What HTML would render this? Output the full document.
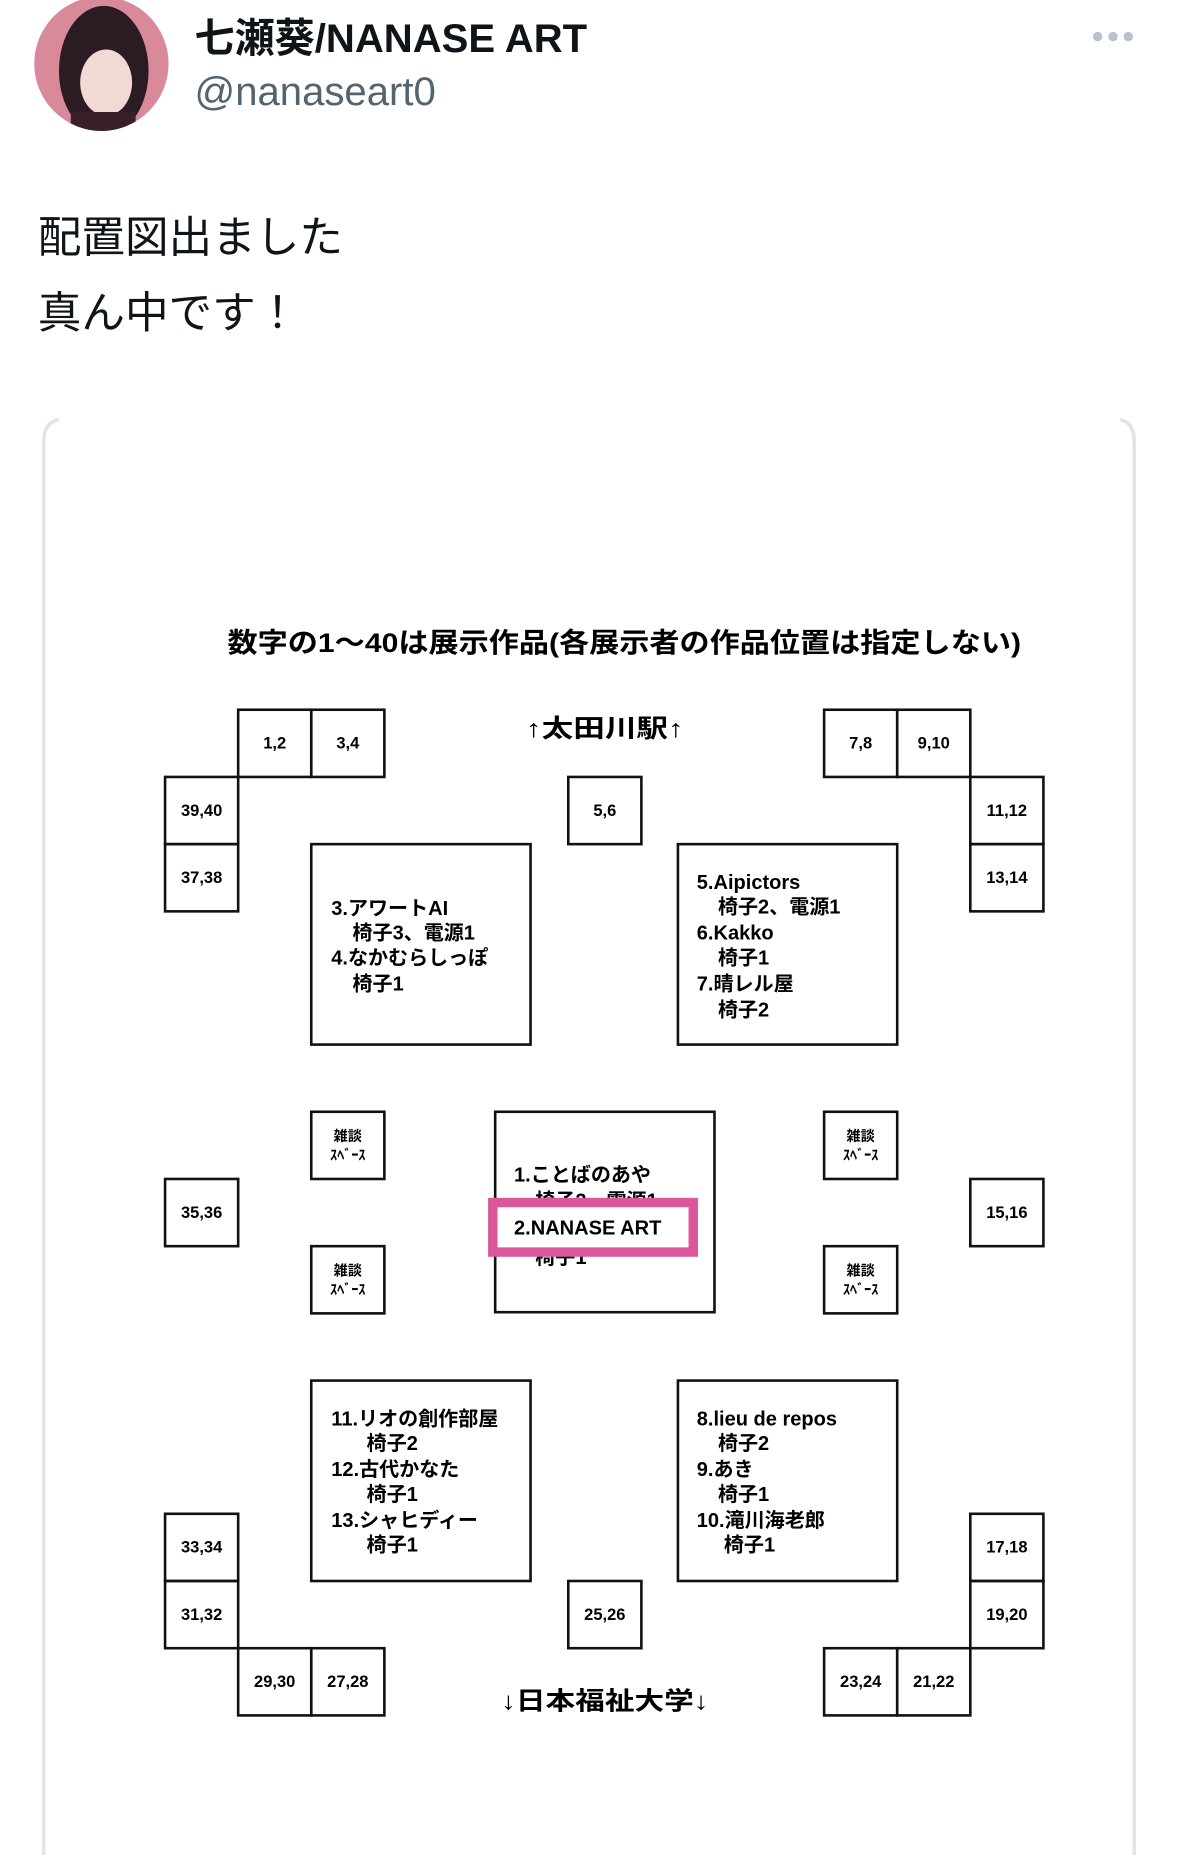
<!DOCTYPE html>
<html><head><meta charset="utf-8"><style>
html,body{margin:0;padding:0;background:#fff;}
svg{display:block}
</style></head><body>
<svg width="1179" height="1855" viewBox="0 0 1000 1573.4" xmlns="http://www.w3.org/2000/svg" font-family="'Liberation Sans','Noto Sans CJK JP',sans-serif">
<rect width="1000" height="1574" fill="#fff"/>
<defs><clipPath id="av"><circle cx="86" cy="54" r="57"/></clipPath></defs>
<g clip-path="url(#av)">
<rect x="29" y="-3" width="114" height="114" fill="#d98a9a"/>
<ellipse cx="88" cy="60" rx="38" ry="55" fill="#2a1c22"/>
<ellipse cx="90" cy="70" rx="22" ry="28" fill="#f3d9d3"/>
<rect x="60" y="95" width="55" height="20" fill="#3a2028"/>
</g>
<text x="165" y="44" font-size="34" font-weight="bold" fill="#0f1419">七瀬葵/NANASE ART</text>
<text x="165" y="89" font-size="34" fill="#536471">@nanaseart0</text>
<circle cx="931" cy="31" r="4" fill="#b8c2cc"/><circle cx="944" cy="31" r="4" fill="#b8c2cc"/><circle cx="957" cy="31" r="4" fill="#b8c2cc"/>
<text x="32" y="214" font-size="37" fill="#0f1419">配置図出ました</text>
<text x="32" y="278" font-size="37" fill="#0f1419">真ん中です！</text>
<path d="M37 1574 V375 Q37 358 50 356 M950 356 Q962 358 962 375 V1574" fill="none" stroke="#e0e3e7" stroke-width="3"/>
<g font-weight="bold" fill="#000">
<text x="193" y="553" font-size="23" textLength="673" lengthAdjust="spacingAndGlyphs">数字の1～40は展示作品(各展示者の作品位置は指定しない)</text>
<text x="446" y="625" font-size="21" textLength="134" lengthAdjust="spacingAndGlyphs">↑太田川駅↑</text>
<text x="425" y="1450" font-size="21" textLength="176" lengthAdjust="spacingAndGlyphs">↓日本福祉大学↓</text>
</g>
<g fill="none" stroke="#111" stroke-width="2.2">
<rect x="202" y="602" width="62" height="57"/><rect x="264" y="602" width="62" height="57"/>
<rect x="699" y="602" width="62" height="57"/><rect x="761" y="602" width="62" height="57"/>
<rect x="140" y="659" width="62" height="57"/><rect x="140" y="716" width="62" height="57"/>
<rect x="823" y="659" width="62" height="57"/><rect x="823" y="716" width="62" height="57"/>
<rect x="482" y="659" width="62" height="57"/>
<rect x="264" y="716" width="186" height="170"/><rect x="575" y="716" width="186" height="170"/>
<rect x="420" y="943" width="186" height="170"/>
<rect x="264" y="1171" width="186" height="170"/><rect x="575" y="1171" width="186" height="170"/>
<rect x="264" y="943" width="62" height="57"/><rect x="264" y="1057" width="62" height="57"/>
<rect x="699" y="943" width="62" height="57"/><rect x="699" y="1057" width="62" height="57"/>
<rect x="140" y="1000" width="62" height="57"/><rect x="823" y="1000" width="62" height="57"/>
<rect x="140" y="1284" width="62" height="57"/><rect x="140" y="1341" width="62" height="57"/>
<rect x="202" y="1398" width="62" height="57"/><rect x="264" y="1398" width="62" height="57"/>
<rect x="482" y="1341" width="62" height="57"/>
<rect x="823" y="1284" width="62" height="57"/><rect x="823" y="1341" width="62" height="57"/>
<rect x="699" y="1398" width="62" height="57"/><rect x="761" y="1398" width="62" height="57"/>
</g>
<g font-size="14" font-weight="bold" text-anchor="middle" fill="#000">
<text x="233" y="635">1,2</text><text x="295" y="635">3,4</text>
<text x="730" y="635">7,8</text><text x="792" y="635">9,10</text>
<text x="171" y="692">39,40</text><text x="171" y="749">37,38</text>
<text x="854" y="692">11,12</text><text x="854" y="749">13,14</text>
<text x="513" y="692">5,6</text>
<text x="171" y="1033">35,36</text><text x="854" y="1033">15,16</text>
<text x="171" y="1317">33,34</text><text x="171" y="1374">31,32</text>
<text x="233" y="1431">29,30</text><text x="295" y="1431">27,28</text>
<text x="513" y="1374">25,26</text>
<text x="854" y="1317">17,18</text><text x="854" y="1374">19,20</text>
<text x="730" y="1431">23,24</text><text x="792" y="1431">21,22</text>
</g>
<g font-size="12" font-weight="bold" text-anchor="middle" fill="#000">
<text x="295" y="968">雑談</text><text x="295" y="984">ｽﾍﾞｰｽ</text>
<text x="295" y="1082">雑談</text><text x="295" y="1098">ｽﾍﾞｰｽ</text>
<text x="730" y="968">雑談</text><text x="730" y="984">ｽﾍﾞｰｽ</text>
<text x="730" y="1082">雑談</text><text x="730" y="1098">ｽﾍﾞｰｽ</text>
</g>
<g font-size="17" font-weight="bold" fill="#000">
<text x="281" y="776">3.アワートAI</text><text x="299" y="797">椅子3、電源1</text>
<text x="281" y="818">4.なかむらしっぽ</text><text x="299" y="840">椅子1</text>
<text x="591" y="754">5.Aipictors</text><text x="609" y="775">椅子2、電源1</text>
<text x="591" y="797">6.Kakko</text><text x="609" y="818">椅子1</text>
<text x="591" y="840">7.晴レル屋</text><text x="609" y="862">椅子2</text>
<text x="281" y="1209">11.リオの創作部屋</text><text x="311" y="1230">椅子2</text>
<text x="281" y="1252">12.古代かなた</text><text x="311" y="1273">椅子1</text>
<text x="281" y="1295">13.シャヒディー</text><text x="311" y="1316">椅子1</text>
<text x="591" y="1209">8.lieu de repos</text><text x="609" y="1230">椅子2</text>
<text x="591" y="1252">9.あき</text><text x="609" y="1273">椅子1</text>
<text x="591" y="1295">10.滝川海老郎</text><text x="614" y="1316">椅子1</text>
<text x="436" y="1002">1.ことばのあや</text><text x="454" y="1024">椅子2、電源1</text>
<text x="454" y="1072">椅子1</text>
</g>
<rect x="418" y="1020" width="170" height="42" fill="#fff" stroke="#d9579a" stroke-width="8"/>
<text x="436" y="1047" font-size="17" font-weight="bold" fill="#000">2.NANASE ART</text>
</svg>
</body></html>
